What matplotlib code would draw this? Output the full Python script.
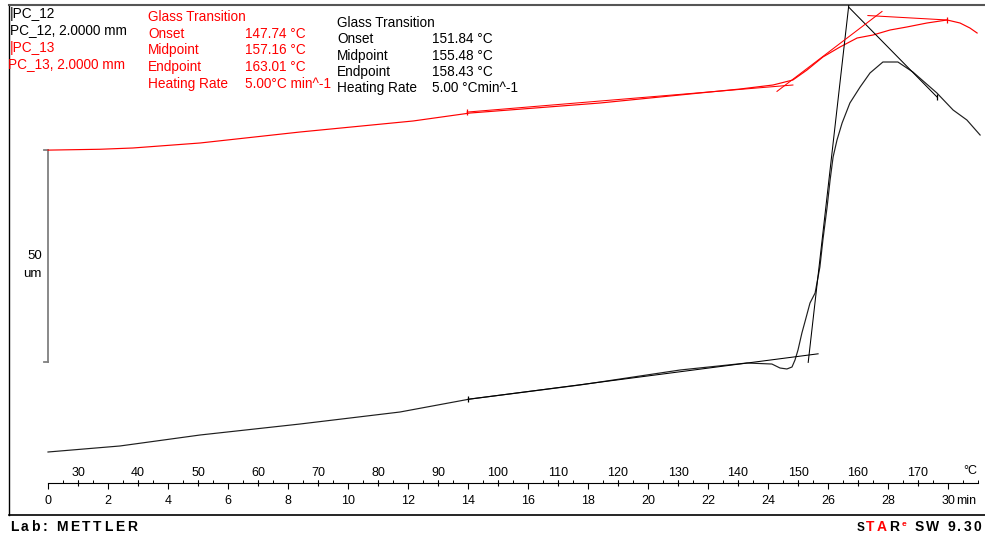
import matplotlib
matplotlib.use("Agg")
import matplotlib.pyplot as plt
from matplotlib.ticker import FixedLocator, MultipleLocator, NullFormatter

plt.rcParams["font.family"] = ["Liberation Sans", "DejaVu Sans"]

# Heating programme: 25 °C at t = 0, heated at 5 K/min
T0 = 25.0
RATE = 5.0

# PC_12 (black): length change in um against time in min
pc12_time = [0.0, 2.4, 5.07, 8.4, 11.73, 14.07, 17.73, 21.07, 23.3, 24.13, 24.4,
             24.63, 24.8, 24.9, 25.0, 25.13, 25.23, 25.4, 25.57, 25.73, 25.83,
             25.97, 26.07, 26.17, 26.3, 26.47, 26.73, 27.07, 27.4, 27.83, 28.33,
             28.83, 29.63, 30.17, 30.63, 31.07]
pc12_dl = [0.0, 1.42, 4.01, 6.6, 9.43, 12.5, 15.8, 19.34, 20.99, 20.75, 19.81,
           19.58, 20.05, 21.7, 24.06, 28.07, 30.66, 35.14, 37.5, 43.63, 50.0,
           57.78, 64.15, 69.58, 73.58, 77.59, 82.31, 86.08, 89.39, 91.98, 91.98,
           89.62, 84.67, 80.66, 78.3, 74.76]

# PC_13 (red): length change in um against time in min
pc13_time = [0.0, 1.73, 2.83, 5.07, 8.4, 12.17, 14.07, 18.4, 21.73, 23.07, 24.17,
             24.83, 25.3, 25.83, 26.4, 26.97, 27.5, 28.07, 28.63, 29.3, 29.97,
             30.4, 30.73, 30.97]
pc13_dl = [71.2, 71.4, 71.7, 72.88, 75.47, 78.07, 79.95, 82.31, 84.67, 85.61, 86.56,
           87.74, 90.09, 93.16, 95.52, 97.64, 98.35, 99.53, 100.24, 101.18, 101.89,
           101.18, 100.0, 98.82]

# Glass-transition evaluation (°C)
pc12_onset, pc12_mid, pc12_end = 151.84, 155.48, 158.43
pc13_onset, pc13_mid, pc13_end = 147.74, 157.16, 163.01

# Tangent construction: level at onset / endpoint (um), slopes (um/min), extents (min)
pc12_onset_dl, pc12_end_dl = 22.88, 104.95
pc12_base_slope, pc12_post_slope = 0.92, -7.2
pc12_base_from, pc12_base_to = 14.0, 25.67
pc12_steep_from, pc12_steep_to = 25.34, 26.9
pc12_post_to = 29.63

pc13_onset_dl, pc13_end_dl = 86.39, 102.83
pc13_base_slope, pc13_top_slope = 0.588, -0.397
pc13_base_from, pc13_base_to = 13.97, 24.83
pc13_steep_from, pc13_steep_to = 24.3, 27.8
pc13_top_from, pc13_top_to = 27.33, 29.97

# Length scale bar
scale_len = 50.0
scale_top = 71.2

# Ruler ticks
temp_ticks = list(range(30, 171, 10))
time_ticks = list(range(0, 31, 2))

# ---------------------------------------------------------------- layout
W, H = 985, 536
fig = plt.figure(figsize=(W / 100, H / 100), dpi=100)
fig.patch.set_facecolor("white")


def fx(px):
    return px / W


def fy(py):
    return 1 - py / H


# time 0 at x = 48 px with 30 px per minute; 0 um at y = 452 px with 4.24 px per um
X0, PX_MIN = 48, 30.0
Y0, PX_UM = 452, 4.24
FL, FR, FT, FB = 9, 985, 5, 515

ax = fig.add_axes([fx(FL), fy(FB), (FR - FL) / W, (FB - FT) / H])
ax.set_xlim((FL - X0) / PX_MIN, (FR - X0) / PX_MIN)
ax.set_ylim((Y0 - FB) / PX_UM, (Y0 - FT) / PX_UM)
ax.set_xticks([])
ax.set_yticks([])
ax.spines["right"].set_visible(False)
ax.spines["left"].set_color("black")
ax.spines["left"].set_linewidth(1.0)
ax.spines["top"].set_color("#555555")
ax.spines["top"].set_linewidth(1.5)
ax.spines["bottom"].set_color("black")
ax.spines["bottom"].set_linewidth(1.2)

# measured curves
ax.plot(pc12_time, pc12_dl, color="#1e1e1e", lw=0.85, zorder=3)
ax.plot(pc13_time, pc13_dl, color="#ff0000", lw=0.85, zorder=3)


def to_time(temp):
    return (temp - T0) / RATE


def seg(t_ref, y_ref, slope, ta, tb):
    return [ta, tb], [y_ref + slope * (ta - t_ref), y_ref + slope * (tb - t_ref)]


# PC_12 tangents
t_on, t_end = to_time(pc12_onset), to_time(pc12_end)
steep = (pc12_end_dl - pc12_onset_dl) / (t_end - t_on)
for xs, ys in (seg(t_on, pc12_onset_dl, pc12_base_slope, pc12_base_from, pc12_base_to),
               seg(t_on, pc12_onset_dl, steep, pc12_steep_from, pc12_steep_to),
               seg(t_end, pc12_end_dl, pc12_post_slope, t_end, pc12_post_to)):
    ax.plot(xs, ys, color="black", lw=0.75, zorder=4)
ax.plot([pc12_base_from, pc12_post_to],
        [pc12_onset_dl + pc12_base_slope * (pc12_base_from - t_on),
         pc12_end_dl + pc12_post_slope * (pc12_post_to - t_end)],
        ls="none", marker="|", ms=5, mew=0.9, color="black", zorder=4)

# PC_13 tangents
t_on, t_end = to_time(pc13_onset), to_time(pc13_end)
steep = (pc13_end_dl - pc13_onset_dl) / (t_end - t_on)
for xs, ys in (seg(t_on, pc13_onset_dl, pc13_base_slope, pc13_base_from, pc13_base_to),
               seg(t_on, pc13_onset_dl, steep, pc13_steep_from, pc13_steep_to),
               seg(t_end, pc13_end_dl, pc13_top_slope, pc13_top_from, pc13_top_to)):
    ax.plot(xs, ys, color="#ff0000", lw=0.75, zorder=4)
ax.plot([pc13_base_from, pc13_top_to],
        [pc13_onset_dl + pc13_base_slope * (pc13_base_from - t_on),
         pc13_end_dl + pc13_top_slope * (pc13_top_to - t_end)],
        ls="none", marker="|", ms=5, mew=0.9, color="#ff0000", zorder=4)

# scale bar
sb_bot = scale_top - scale_len
ax.plot([0, 0], [sb_bot, scale_top], color="#808080", lw=1.3, zorder=2)
ax.plot([-0.13, 0], [sb_bot, sb_bot], color="#808080", lw=1.3, zorder=2)
ax.plot([-0.13, 0], [scale_top, scale_top], color="#808080", lw=1.3, zorder=2)
ax.text(-0.2, sb_bot + scale_len / 2, "50", ha="right", va="center", fontsize=9.5)
ax.text(-0.2, sb_bot + scale_len / 2 - 4.2, "um", ha="right", va="center", fontsize=9.5)

# ---------------------------------------------------------------- ruler
RX0, RX1, RY = 48, 978, 483
t_span = (RX1 - RX0) / PX_MIN
axT = fig.add_axes([fx(RX0), fy(RY), (RX1 - RX0) / W, 1e-6])
axT.set_xlim(T0, T0 + RATE * t_span)
axT.set_yticks([])
axT.patch.set_visible(False)

axt = axT.twiny()
axt.set_xlim(0, t_span)
axt.patch.set_visible(False)
for s in axt.spines.values():
    s.set_visible(False)

for s in ("left", "right", "top"):
    axT.spines[s].set_visible(False)
axT.spines["bottom"].set_linewidth(0.8)
axT.xaxis.set_major_locator(FixedLocator(temp_ticks))
axT.xaxis.set_minor_locator(FixedLocator([]))
axT.tick_params(axis="x", which="major", bottom=True, top=False, labelbottom=False,
                labeltop=True, direction="inout", length=5, width=0.8, labelsize=9,
                pad=0.5, colors="black")

axt.xaxis.set_major_locator(FixedLocator(time_ticks))
axt.xaxis.set_minor_locator(MultipleLocator(0.5))
axt.xaxis.set_minor_formatter(NullFormatter())
axt.tick_params(axis="x", which="major", bottom=True, top=False, labelbottom=True,
                labeltop=False, direction="out", length=4, width=0.8, labelsize=9, pad=5)
axt.tick_params(axis="x", which="minor", bottom=True, top=False, labelbottom=False,
                labeltop=False, direction="in", length=2, width=0.7)

# unit labels at the ruler end
fig.text(fx(970), fy(471), "°C", ha="center", va="center", fontsize=9)
fig.text(fx(956), fy(501), "min", ha="left", va="center", fontsize=9)

# ---------------------------------------------------------------- annotations
FS = 9.8
fig.text(fx(10), fy(14), "|PC_12", fontsize=FS, va="center", color="black")
fig.text(fx(10), fy(30), "PC_12, 2.0000 mm", fontsize=FS, va="center", color="black")
fig.text(fx(10), fy(48), "|PC_13", fontsize=FS, va="center", color="#ff0000")
fig.text(fx(8), fy(64), "PC_13, 2.0000 mm", fontsize=FS, va="center", color="#ff0000")

red_rows = [("Glass Transition", ""),
            ("Onset", f"{pc13_onset:.2f} °C"),
            ("Midpoint", f"{pc13_mid:.2f} °C"),
            ("Endpoint", f"{pc13_end:.2f} °C"),
            ("Heating Rate", f"{RATE:.2f}°C min^-1")]
for i, (lab, val) in enumerate(red_rows):
    y = 17 + i * 16.7
    fig.text(fx(148), fy(y), lab, fontsize=FS, va="center", color="#ff0000")
    if val:
        fig.text(fx(245), fy(y), val, fontsize=FS, va="center", color="#ff0000")

blk_rows = [("Glass Transition", ""),
            ("Onset", f"{pc12_onset:.2f} °C"),
            ("Midpoint", f"{pc12_mid:.2f} °C"),
            ("Endpoint", f"{pc12_end:.2f} °C"),
            ("Heating Rate", f"{RATE:.2f} °Cmin^-1")]
for i, (lab, val) in enumerate(blk_rows):
    y = 23 + i * 16.3
    fig.text(fx(337), fy(y), lab, fontsize=FS, va="center", color="black")
    if val:
        fig.text(fx(432), fy(y), val, fontsize=FS, va="center", color="black")

# ---------------------------------------------------------------- footer
renderer = fig.canvas.get_renderer()


def spaced(x_px, y_px, parts, gap, align="left"):
    """Draw letter-spaced text; parts = [(char, color, size, dy_px), ...]."""
    items = []
    for ch, col, size, dy in parts:
        if ch == " ":
            items.append((None, size * 0.28 * 100 / 72))
            continue
        t = fig.text(0, 0, ch, fontsize=size, fontweight="bold", color=col,
                     va="baseline", ha="left")
        w = t.get_window_extent(renderer).width
        items.append(((t, dy), w))
    total = sum(w for _, w in items) + gap * (len(items) - 1)
    x = x_px if align == "left" else x_px - total
    for obj, w in items:
        if obj is not None:
            t, dy = obj
            t.set_position((fx(x), fy(y_px - dy)))
        x += w + gap


spaced(10, 531, [(c, "black", 10, 0) for c in "Lab: METTLER"], 2.6)
star = [("S", "black", 8.5, 0), ("T", "#ff0000", 10, 0), ("A", "#ff0000", 10, 0),
        ("R", "black", 10, 0), ("e", "#ff0000", 6, 5), (" ", "black", 10, 0)]
star += [(c, "black", 10, 0) for c in "SW 9.30"]
spaced(981, 531, star, 2.2, align="right")

fig.savefig("out.png", dpi=100, facecolor="white")
